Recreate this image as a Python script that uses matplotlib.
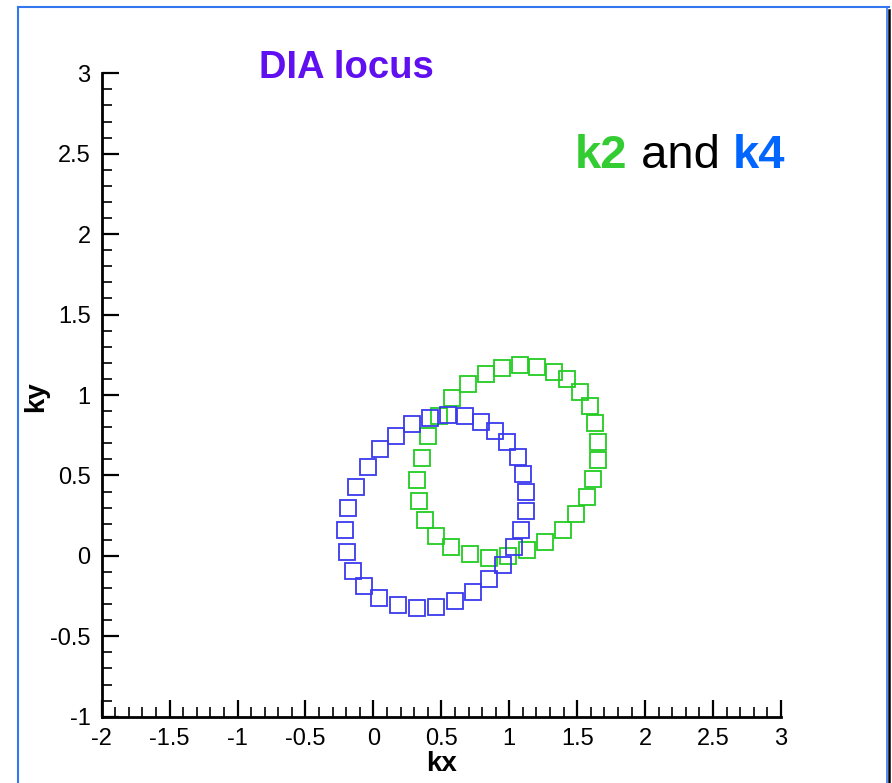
import matplotlib
matplotlib.use("Agg")
import matplotlib.pyplot as plt
from matplotlib.ticker import MultipleLocator
from matplotlib.lines import Line2D

plt.rcParams['font.family'] = ['Liberation Sans', 'DejaVu Sans']

# k4 locus (blue)
k4_x = [0.417, 0.547, 0.675, 0.793, 0.896, 0.982, 1.065, 1.099, 1.121, 1.121,
        1.087, 1.038, 0.957, 0.851, 0.734, 0.603, 0.464, 0.322, 0.180, 0.040,
        -0.068, -0.149, -0.196, -0.208, -0.184, -0.127, -0.043, 0.052, 0.169, 0.287]
k4_y = [0.859, 0.878, 0.869, 0.834, 0.778, 0.710, 0.616, 0.509, 0.399, 0.281,
        0.161, 0.053, -0.057, -0.146, -0.227, -0.281, -0.316, -0.326, -0.306, -0.260,
        -0.187, -0.092, 0.026, 0.161, 0.296, 0.430, 0.554, 0.664, 0.747, 0.819]

# k2 locus (green)
k2_x = [0.579, 0.697, 0.827, 0.949, 1.077, 1.202, 1.332, 1.425, 1.521, 1.592,
        1.629, 1.653, 1.653, 1.617, 1.570, 1.489, 1.394, 1.263, 1.133, 0.993,
        0.851, 0.712, 0.570, 0.464, 0.383, 0.334, 0.322, 0.358, 0.405, 0.486]
k2_y = [0.980, 1.068, 1.129, 1.166, 1.188, 1.176, 1.145, 1.098, 1.019, 0.930,
        0.826, 0.710, 0.596, 0.478, 0.364, 0.258, 0.163, 0.088, 0.035, -0.001,
        -0.012, 0.010, 0.053, 0.122, 0.223, 0.341, 0.472, 0.610, 0.745, 0.870]

x_ticks = [-2, -1.5, -1, -0.5, 0, 0.5, 1, 1.5, 2, 2.5, 3]
x_labels = ['-2', '-1.5', '-1', '-0.5', '0', '0.5', '1', '1.5', '2', '2.5', '3']
y_ticks = [-1, -0.5, 0, 0.5, 1, 1.5, 2, 2.5, 3]
y_labels = ['-1', '-0.5', '0', '0.5', '1', '1.5', '2', '2.5', '3']

W, H = 892, 783
fig = plt.figure(figsize=(W / 100, H / 100), dpi=100)
ax = fig.add_axes([101.7 / W, 1 - 716.7 / H, (781 - 101.7) / W, (716.7 - 73.3) / H])

ax.plot(k2_x, k2_y, linestyle='none', marker='s', markersize=12.2,
        markerfacecolor='none', markeredgecolor='#22cc22', markeredgewidth=1.3)
ax.plot(k4_x, k4_y, linestyle='none', marker='s', markersize=12.2,
        markerfacecolor='none', markeredgecolor='#3a3aee', markeredgewidth=1.3)

ax.set_xlim(-2, 3)
ax.set_ylim(-1, 3)
ax.set_xticks(x_ticks)
ax.set_xticklabels(x_labels)
ax.set_yticks(y_ticks)
ax.set_yticklabels(y_labels)
ax.xaxis.set_minor_locator(MultipleLocator(0.1))
ax.yaxis.set_minor_locator(MultipleLocator(0.1))
for s in ['top', 'right']:
    ax.spines[s].set_visible(False)
for s in ['left', 'bottom']:
    ax.spines[s].set_linewidth(2)
ax.tick_params(which='major', direction='in', length=12, width=1.6, labelsize=17, pad=8)
ax.tick_params(which='minor', direction='in', length=7, width=1.2)
ax.set_xlabel('kx', fontsize=20, fontweight='bold', labelpad=1)
ax.set_ylabel('ky', fontsize=20, fontweight='bold')
ax.yaxis.set_label_coords(-0.077, 0.497)
ax.patch.set_visible(False)

fig.text(346 / W, 1 - 68 / H, 'DIA locus', color='#6010f0', fontsize=27.5,
         fontweight='bold', ha='center', va='center')

# "k2 and k4" label
t1 = fig.text(575 / W, 1 - 156 / H, 'k2', color='#33cc33', fontsize=34,
              fontweight='bold', ha='left', va='center')
fig.canvas.draw()
r = fig.canvas.get_renderer()
bb = t1.get_window_extent(r)
t2 = fig.text(bb.x1 / W, 1 - 156 / H, ' and ', color='black', fontsize=34,
              ha='left', va='center')
bb2 = t2.get_window_extent(r)
fig.text(bb2.x1 / W, 1 - 156 / H, 'k4', color='#0066ff', fontsize=34,
         fontweight='bold', ha='left', va='center')

# figure frame
fig.add_artist(Line2D([18 / W, 18 / W], [-0.01, 1 - 7 / H], color='#3377ee', lw=1.5))
fig.add_artist(Line2D([18 / W, 889 / W], [1 - 7 / H, 1 - 7 / H], color='#3377ee', lw=1.5))
fig.add_artist(Line2D([887 / W, 887 / W], [-0.01, 1 - 7 / H], color='#3377ee', lw=1.2))
fig.add_artist(Line2D([889 / W, 889 / W], [-0.01, 1 - 10 / H], color='black', lw=1.8))

fig.savefig('out.png', dpi=100)
